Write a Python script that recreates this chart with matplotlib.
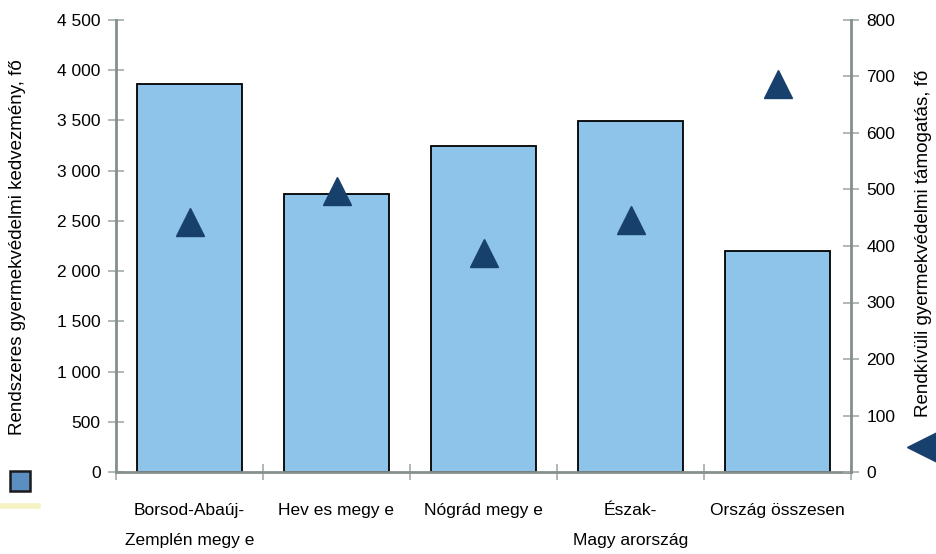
import numpy as np
import matplotlib
matplotlib.use('Agg')
import matplotlib.pyplot as plt
from matplotlib.lines import Line2D

plt.rcParams['font.family'] = ['Liberation Sans', 'DejaVu Sans']
plt.rcParams['font.size'] = 12.5

categories = ['Borsod-Abaúj-\nZemplén megy e', 'Hev es megy e', 'Nógrád megy e',
              'Észak-\nMagy arország', 'Ország összesen']
rendszeres = [3860, 2770, 3250, 3490, 2200]   # bars, left axis
rendkivuli = [442, 497, 388, 446, 687]        # triangles, right axis

left_ticks = [0, 500, 1000, 1500, 2000, 2500, 3000, 3500, 4000, 4500]
right_ticks = [0, 100, 200, 300, 400, 500, 600, 700, 800]

spine_col = '#868e8e'
tick_col = '#a3abab'
bar_col = '#8ec3ea'
tri_col = '#17406d'

fig = plt.figure(figsize=(9.36, 5.54), dpi=100)
ax = fig.add_axes([116/936, 1-472/554, 735/936, 452/554])
x = np.arange(len(categories))
ax.bar(x, rendszeres, width=0.72, color=bar_col, edgecolor='black', linewidth=1.3, zorder=2)
ax.set_xlim(-0.5, len(categories) - 0.5)
ax.set_ylim(0, 4500)
ax.set_yticks(left_ticks)
ax.set_yticklabels([f'{v:,}'.replace(',', ' ') for v in left_ticks])
ax.set_xticks(x)
ax.set_xticklabels(categories, linespacing=2.25)
ax.set_xticks(np.arange(len(categories) + 1) - 0.5, minor=True)
ax.tick_params(axis='x', which='major', length=0, pad=22)
ax.tick_params(axis='x', which='minor', direction='inout', length=12, color=tick_col, width=1.2)
ax.tick_params(axis='y', direction='inout', length=12, color=tick_col, width=1.2, pad=5)
for s in ['top', 'right']:
    ax.spines[s].set_visible(False)
for s in ['left', 'bottom']:
    ax.spines[s].set_color(spine_col)
    ax.spines[s].set_linewidth(2)

ax2 = ax.twinx()
ax2.plot(x, rendkivuli, linestyle='none', marker='^', markersize=20, color=tri_col, zorder=3)
ax2.set_ylim(0, 800)
ax2.set_yticks(right_ticks)
ax2.tick_params(axis='y', direction='inout', length=12, color=tick_col, width=1.2, pad=5)
for s in ['top', 'left', 'bottom']:
    ax2.spines[s].set_visible(False)
ax2.spines['right'].set_color(spine_col)
ax2.spines['right'].set_linewidth(2)

fig.text(18/936, 1-247/554, 'Rendszeres gyermekvédelmi kedvezmény, fő', rotation=90,
         ha='center', va='center', fontsize=13.5)
fig.text(924/936, 1-243/554, 'Rendkívüli gyermekvédelmi támogatás, fő', rotation=90,
         ha='center', va='center', fontsize=13.5)

# stray legend fragments
fig.add_artist(Line2D([20/936], [1-481/554], marker='s', markersize=14, color='#5b8fc2',
                      markeredgecolor='#1a1a1a', markeredgewidth=1.8, transform=fig.transFigure))
fig.add_artist(Line2D([0, 38/936], [1-506/554, 1-506/554], color='#f6f3c2', linewidth=4,
                      transform=fig.transFigure))
fig.add_artist(Line2D([922/936], [1-447/554], marker='<', markersize=21, color=tri_col,
                      transform=fig.transFigure))

fig.savefig('out.png', dpi=100)
